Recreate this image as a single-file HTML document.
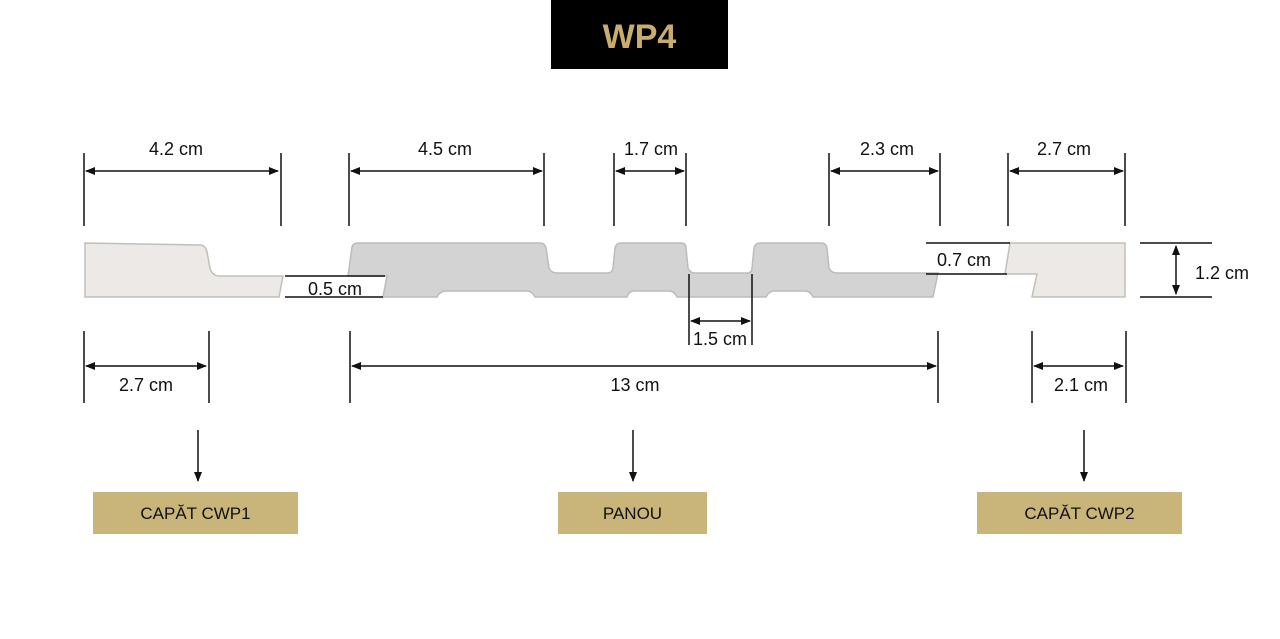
<!DOCTYPE html>
<html><head><meta charset="utf-8"><style>
body{margin:0;background:#fff;width:1280px;height:639px;overflow:hidden}
svg{display:block}
text{font-family:"Liberation Sans",sans-serif;fill:#111}
</style></head><body>
<svg width="1280" height="639" viewBox="0 0 1280 639">
<defs><marker id="a" markerWidth="10" markerHeight="10" refX="9" refY="5" orient="auto-start-reverse" markerUnits="userSpaceOnUse"><path d="M0,1 L10,5 L0,9 z" fill="#111"/></marker></defs>
<rect x="551" y="0" width="177" height="69" fill="#000"/>
<text x="639.5" y="48" text-anchor="middle" font-size="34" font-weight="bold" style="fill:#c9ad6e">WP4</text>

<path d="M85,243 L201,245 Q206,246 207,252 L210,268 Q212,276 220,276 L283,276 L279,297 L85,297 Z" fill="#ece9e7" stroke="#c2bfba" stroke-width="1.5"/>
<path d="M352,247 Q353,243 358,243 L540,243 Q545,243 546,248 L549,268 Q551,273 557,273 L608,273 Q612,273 613,268 L615,248 Q616,243 621,243 L681,243 Q686,243 686,248 L688,268 Q690,273 695,273 L747,273 Q752,273 752,268 L754,248 Q755,243 760,243 L822,243 Q826,243 827,248 L829,268 Q831,273 837,273 L938,273 L933,297 L813,297 Q810,291 805,291 L774,291 Q769,291 766,297 L677,297 Q674,291 669,291 L634,291 Q629,291 627,297 L535,297 Q532,291 527,291 L446,291 Q440,291 437,297 L383,297 L387,276 L348,276 Z" fill="#d3d3d3" stroke="#bcbcbc" stroke-width="1.5"/>
<path d="M1010,243 L1125,243 L1125,297 L1032,297 L1037,274 L1005,274 Z" fill="#ece9e7" stroke="#c2bfba" stroke-width="1.5"/>

<g stroke="#111" stroke-width="1.5" fill="none">
<path d="M84,153V226M281,153V226M349,153V226M544,153V226M614,153V226M686,153V226M829,153V226M940,153V226M1008,153V226M1125,153V226"/>
<path d="M84,331V403M209,331V403M350,331V403M938,331V403M1032,331V403M1126,331V403"/>
<path d="M689,274V345M752,274V345"/>
<path d="M285,276H385M285,297H383"/>
<path d="M926,243H1010M926,274H1007"/>
<path d="M1140,243H1212M1140,297H1212"/>
</g>
<g stroke="#111" stroke-width="1.5" marker-start="url(#a)" marker-end="url(#a)">
<line x1="86" y1="171" x2="278" y2="171"/>
<line x1="351" y1="171" x2="542" y2="171"/>
<line x1="616" y1="171" x2="684" y2="171"/>
<line x1="831" y1="171" x2="938" y2="171"/>
<line x1="1010" y1="171" x2="1123" y2="171"/>
<line x1="86" y1="366" x2="206" y2="366"/>
<line x1="352" y1="366" x2="936" y2="366"/>
<line x1="1034" y1="366" x2="1123" y2="366"/>
<line x1="691" y1="321" x2="750" y2="321"/>
<line x1="1176" y1="246" x2="1176" y2="294"/>
</g>
<g stroke="#111" stroke-width="1.5" marker-end="url(#a)">
<line x1="198" y1="430" x2="198" y2="481"/>
<line x1="633" y1="430" x2="633" y2="481"/>
<line x1="1084" y1="430" x2="1084" y2="481"/>
</g>

<g font-size="18" text-anchor="middle">
<text x="176" y="155">4.2 cm</text>
<text x="445" y="155">4.5 cm</text>
<text x="651" y="155">1.7 cm</text>
<text x="887" y="155">2.3 cm</text>
<text x="1064" y="155">2.7 cm</text>
<text x="146" y="391">2.7 cm</text>
<text x="635" y="391">13 cm</text>
<text x="1081" y="391">2.1 cm</text>
<text x="720" y="345">1.5 cm</text>
<text x="335" y="295">0.5 cm</text>
<text x="964" y="266">0.7 cm</text>
<text x="1222" y="279">1.2 cm</text>
</g>

<rect x="93" y="492" width="205" height="42" fill="#c9b47a"/>
<rect x="558" y="492" width="149" height="42" fill="#c9b47a"/>
<rect x="977" y="492" width="205" height="42" fill="#c9b47a"/>
<g font-size="17" text-anchor="middle">
<text x="195.5" y="519">CAPĂT CWP1</text>
<text x="632.5" y="519">PANOU</text>
<text x="1079.5" y="519">CAPĂT CWP2</text>
</g>
</svg>
</body></html>
